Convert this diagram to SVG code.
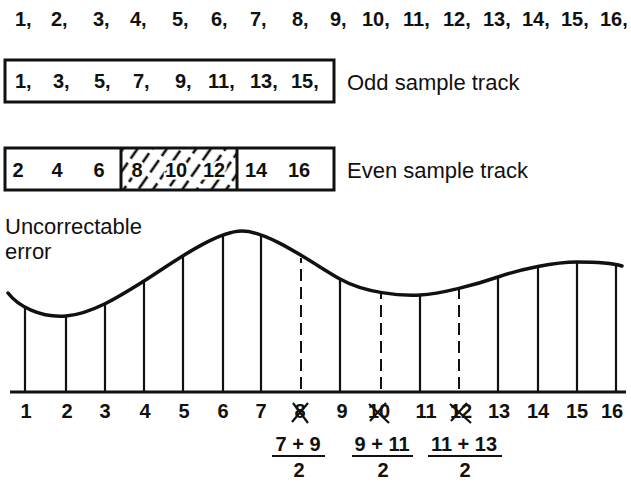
<svg xmlns="http://www.w3.org/2000/svg" width="631" height="486" viewBox="0 0 631 486">
<style>
.num{font-family:"Liberation Sans",Arial,sans-serif;font-size:20px;font-weight:bold;fill:#111}
.word{font-family:"Liberation Sans",Arial,sans-serif;font-size:22px;fill:#111}
.box{fill:none;stroke:#111;stroke-width:3}
.tick{stroke:#111;stroke-width:2.2}
.dash{stroke:#111;stroke-width:2;stroke-dasharray:12 6}
.halo{stroke:#fff;stroke-width:5;paint-order:stroke}
.cross{stroke:#111;stroke-width:2.2;fill:none}
</style>
<defs>
<pattern id="hatch" patternUnits="userSpaceOnUse" width="12" height="20" patternTransform="rotate(35)">
<line x1="6" y1="0" x2="6" y2="20" stroke="#111" stroke-width="2.6" stroke-dasharray="15 5"/>
</pattern>
</defs>
<rect width="631" height="486" fill="#fff"/>

<g id="all-samples" class="num">
<text x="15" y="26">1,</text><text x="51" y="26">2,</text><text x="93" y="26">3,</text><text x="130" y="26">4,</text>
<text x="172" y="26">5,</text><text x="211" y="26">6,</text><text x="250" y="26">7,</text><text x="292" y="26">8,</text>
<text x="330" y="26">9,</text><text x="362" y="26">10,</text><text x="403" y="26">11,</text><text x="443" y="26">12,</text>
<text x="483" y="26">13,</text><text x="522" y="26">14,</text><text x="561" y="26">15,</text><text x="600" y="26">16,</text>
</g>

<g id="odd-track">
<rect class="box" x="5" y="60" width="329" height="42"/>
<g class="num">
<text x="15" y="88">1,</text><text x="53" y="88">3,</text><text x="94" y="88">5,</text><text x="133" y="88">7,</text>
<text x="175" y="88">9,</text><text x="208" y="88">11,</text><text x="250" y="88">13,</text><text x="291" y="88">15,</text>
</g>
<text class="word" x="347" y="90">Odd sample track</text>
</g>

<g id="even-track">
<rect x="121" y="148" width="116" height="42" fill="url(#hatch)"/>
<rect class="box" x="5" y="148" width="329" height="42"/>
<line x1="121" y1="148" x2="121" y2="190" stroke="#111" stroke-width="3"/>
<line x1="237" y1="148" x2="237" y2="190" stroke="#111" stroke-width="3"/>
<g class="num" text-anchor="middle">
<text x="18" y="177">2</text><text x="57" y="177">4</text><text x="99" y="177">6</text>
<text class="halo" x="137" y="177">8</text><text class="halo" x="176" y="177">10</text><text class="halo" x="214" y="177">12</text>
<text x="256" y="177">14</text><text x="299" y="177">16</text>
</g>
<text class="word" x="347" y="178">Even sample track</text>
</g>

<g id="label-error" class="word">
<text x="5" y="234">Uncorrectable</text>
<text x="5" y="259">error</text>
</g>

<g id="waveform">
<path d="M8,293 C18,306 40,318 66,316 S120,296 144,281 S215,231 242,231 S315,265 340,279 S400,296 420,295 S475,285 498,277 S555,262 577,262 S612,263 622,266" fill="none" stroke="#111" stroke-width="3.5" stroke-linecap="round"/>
<line class="tick" x1="25" y1="392" x2="25" y2="308"/>
<line class="tick" x1="66" y1="392" x2="66" y2="316"/>
<line class="tick" x1="105" y1="392" x2="105" y2="303"/>
<line class="tick" x1="144" y1="392" x2="144" y2="281"/>
<line class="tick" x1="183" y1="392" x2="183" y2="255"/>
<line class="tick" x1="223" y1="392" x2="223" y2="236"/>
<line class="tick" x1="261" y1="392" x2="261" y2="235"/>
<line class="dash" x1="301" y1="389" x2="301" y2="258"/>
<line class="tick" x1="340" y1="392" x2="340" y2="279"/>
<line class="dash" x1="381" y1="389" x2="381" y2="293"/>
<line class="tick" x1="420" y1="392" x2="420" y2="295"/>
<line class="dash" x1="459" y1="389" x2="459" y2="290"/>
<line class="tick" x1="498" y1="392" x2="498" y2="277"/>
<line class="tick" x1="538" y1="392" x2="538" y2="267"/>
<line class="tick" x1="577" y1="392" x2="577" y2="262"/>
<line class="tick" x1="616" y1="392" x2="616" y2="264"/>
<line x1="10" y1="392" x2="626" y2="392" stroke="#111" stroke-width="3"/>
</g>

<g id="axis-labels" class="num" text-anchor="middle">
<text x="26" y="418">1</text><text x="67" y="418">2</text><text x="105" y="418">3</text><text x="145" y="418">4</text>
<text x="184" y="418">5</text><text x="223" y="418">6</text><text x="261" y="418">7</text><text x="300" y="418">8</text>
<text x="342" y="418">9</text><text x="379" y="418">10</text><text x="426" y="418">11</text><text x="461" y="418">12</text>
<text x="499" y="418">13</text><text x="538" y="418">14</text><text x="577" y="418">15</text><text x="612" y="418">16</text>
<path class="cross" d="M293,403 L308,423 M308,403 L292,422"/>
<path class="cross" d="M369,404 L389,423 M386,403 L370,421"/>
<path class="cross" d="M450,404 L471,423 M467,403 L451,421"/>
</g>

<g id="interpolations" class="num" text-anchor="middle">
<text x="298" y="451">7 + 9</text>
<line x1="272" y1="456" x2="325" y2="456" stroke="#111" stroke-width="2"/>
<text x="299" y="477">2</text>
<text x="382" y="451">9 + 11</text>
<line x1="352" y1="456" x2="413" y2="456" stroke="#111" stroke-width="2"/>
<text x="383" y="477">2</text>
<text x="464" y="451">11 + 13</text>
<line x1="428" y1="456" x2="502" y2="456" stroke="#111" stroke-width="2"/>
<text x="465" y="477">2</text>
</g>
</svg>
